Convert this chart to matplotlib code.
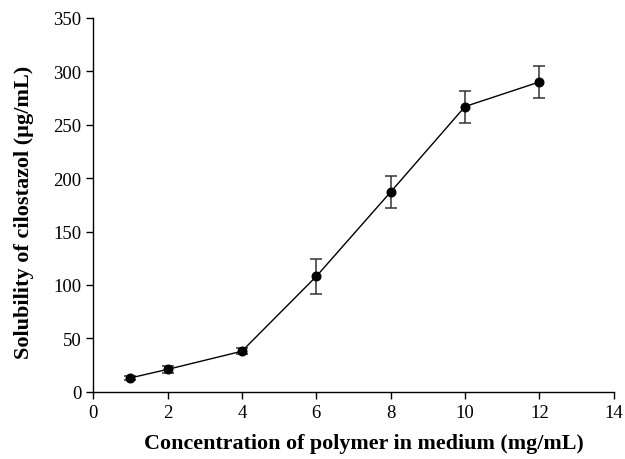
import matplotlib
matplotlib.use("Agg")
import matplotlib.pyplot as plt

# Polymer concentration (mg/mL) vs. cilostazol solubility (µg/mL)
concentration = [1, 2, 4, 6, 8, 10, 12]
solubility = [13, 21, 38, 108, 187, 267, 290]
sd = [2, 3, 3, 16, 15, 15, 15]

x_ticks = [0, 2, 4, 6, 8, 10, 12, 14]
y_ticks = [0, 50, 100, 150, 200, 250, 300, 350]

plt.rcParams['font.family'] = ['Liberation Serif', 'DejaVu Serif']

fig = plt.figure(figsize=(6.25, 4.6), dpi=100)
ax = fig.add_axes([0.149, 0.146, 0.833, 0.813])

ax.errorbar(concentration, solubility, yerr=sd, fmt='o-', color='black',
            ecolor='#333333', elinewidth=1.1, capsize=4.5, capthick=1.1,
            markersize=6.2, linewidth=1.0)

ax.set_xlim(0, 14)
ax.set_ylim(0, 350)
ax.set_xticks(x_ticks)
ax.set_yticks(y_ticks)
ax.tick_params(direction='out', length=5, width=1, labelsize=13.5, colors='black')

for side in ('top', 'right'):
    ax.spines[side].set_visible(False)
for side in ('left', 'bottom'):
    ax.spines[side].set_linewidth(1.0)

ax.set_xlabel('Concentration of polymer in medium (mg/mL)', fontsize=15.8,
              fontweight='bold', labelpad=9)
ax.set_ylabel('Solubility of cilostazol (\u00b5g/mL)', fontsize=16,
              fontweight='bold', labelpad=14)
ax.xaxis.label.set_x(0.521)
ax.yaxis.label.set_y(0.482)

fig.savefig('out.png', dpi=100)
